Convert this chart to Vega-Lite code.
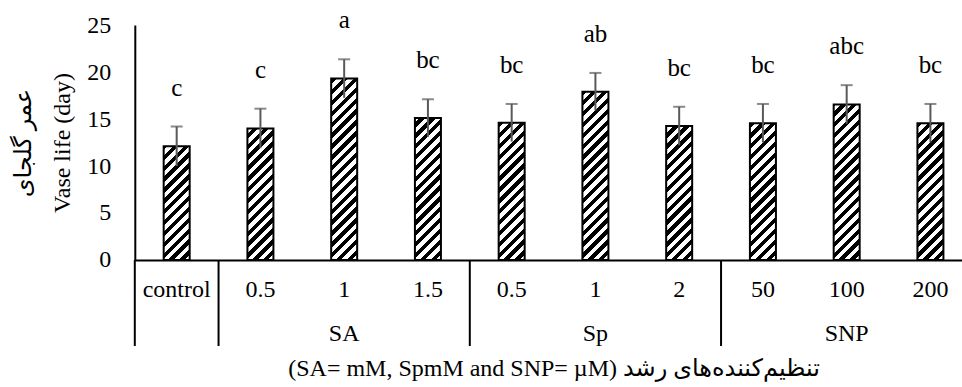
{
  "$schema": "https://vega.github.io/schema/vega-lite/v6.json",
  "autosize": "none",
  "padding": {"left": 134.8, "top": 25, "right": 0, "bottom": 127},
  "width": 837.5,
  "height": 235,
  "background": "white",
  "config": {"view": {"stroke": null}, "font": "Liberation Serif"},
  "data": {
    "values": [
      {"id": "control", "group": "control", "mean": 12.1, "lo": 10.0, "hi": 14.2, "letter": "c"},
      {"id": "SA 0.5", "group": "SA", "mean": 14.0, "lo": 11.9, "hi": 16.1, "letter": "c"},
      {"id": "SA 1", "group": "SA", "mean": 19.3, "lo": 17.25, "hi": 21.35, "letter": "a"},
      {"id": "SA 1.5", "group": "SA", "mean": 15.1, "lo": 13.1, "hi": 17.1, "letter": "bc"},
      {"id": "Sp 0.5", "group": "Sp", "mean": 14.6, "lo": 12.6, "hi": 16.6, "letter": "bc"},
      {"id": "Sp 1", "group": "Sp", "mean": 17.9, "lo": 15.9, "hi": 19.9, "letter": "ab"},
      {"id": "Sp 2", "group": "Sp", "mean": 14.25, "lo": 12.2, "hi": 16.3, "letter": "bc"},
      {"id": "SNP 50", "group": "SNP", "mean": 14.55, "lo": 12.5, "hi": 16.6, "letter": "bc"},
      {"id": "SNP 100", "group": "SNP", "mean": 16.55, "lo": 14.5, "hi": 18.6, "letter": "abc"},
      {"id": "SNP 200", "group": "SNP", "mean": 14.55, "lo": 12.5, "hi": 16.6, "letter": "bc"}
    ]
  },
  "encoding": {
    "x": {
      "field": "id",
      "type": "nominal",
      "sort": null,
      "scale": {"type": "band", "paddingInner": 0, "paddingOuter": 0},
      "axis": {
        "orient": "bottom",
        "labelAngle": 0,
        "labelExpr": "indexof(datum.value, ' ') > 0 ? substring(datum.value, indexof(datum.value, ' ') + 1) : datum.value",
        "labelFont": "Liberation Serif",
        "labelFontSize": 24,
        "labelColor": "black",
        "labelPadding": 18,
        "ticks": false,
        "domain": true,
        "domainColor": "black",
        "domainWidth": 2,
        "grid": false,
        "title": "(SA= mM, SpmM and SNP= µM) تنظیم‌کننده‌های رشد",
        "titleFont": "Liberation Serif, DejaVu Sans",
        "titleFontSize": 24,
        "titleFontWeight": "normal",
        "titleColor": "black",
        "titlePadding": 55
      }
    },
    "y": {
      "field": "mean",
      "type": "quantitative",
      "scale": {"domain": [0, 25], "nice": false},
      "axis": {
        "values": [0, 5, 10, 15, 20, 25],
        "ticks": false,
        "grid": false,
        "domainColor": "black",
        "domainWidth": 2,
        "labelFont": "Liberation Serif",
        "labelFontSize": 24,
        "labelColor": "black",
        "labelPadding": 24,
        "title": ["عمر گلجای", "Vase life (day)"],
        "titleFont": "Liberation Serif, DejaVu Sans",
        "titleFontSize": 24,
        "titleFontWeight": "normal",
        "titleColor": "black",
        "titlePadding": 12,
        "titleLineHeight": 39
      }
    }
  },
  "layer": [
    {
      "mark": {
        "type": "bar",
        "size": 26,
        "fill": {
          "gradient": "linear",
          "x1": 0, "y1": 0, "x2": 0.12139, "y2": 1.0972,
          "stops": [
            {"offset": 0, "color": "#000"}, {"offset": 0.020833, "color": "#000"}, {"offset": 0.020833, "color": "#fff"}, {"offset": 0.041667, "color": "#fff"},
            {"offset": 0.041667, "color": "#000"}, {"offset": 0.0625, "color": "#000"}, {"offset": 0.0625, "color": "#fff"}, {"offset": 0.083333, "color": "#fff"},
            {"offset": 0.083333, "color": "#000"}, {"offset": 0.104167, "color": "#000"}, {"offset": 0.104167, "color": "#fff"}, {"offset": 0.125, "color": "#fff"},
            {"offset": 0.125, "color": "#000"}, {"offset": 0.145833, "color": "#000"}, {"offset": 0.145833, "color": "#fff"}, {"offset": 0.166667, "color": "#fff"},
            {"offset": 0.166667, "color": "#000"}, {"offset": 0.1875, "color": "#000"}, {"offset": 0.1875, "color": "#fff"}, {"offset": 0.208333, "color": "#fff"},
            {"offset": 0.208333, "color": "#000"}, {"offset": 0.229167, "color": "#000"}, {"offset": 0.229167, "color": "#fff"}, {"offset": 0.25, "color": "#fff"},
            {"offset": 0.25, "color": "#000"}, {"offset": 0.270833, "color": "#000"}, {"offset": 0.270833, "color": "#fff"}, {"offset": 0.291667, "color": "#fff"},
            {"offset": 0.291667, "color": "#000"}, {"offset": 0.3125, "color": "#000"}, {"offset": 0.3125, "color": "#fff"}, {"offset": 0.333333, "color": "#fff"},
            {"offset": 0.333333, "color": "#000"}, {"offset": 0.354167, "color": "#000"}, {"offset": 0.354167, "color": "#fff"}, {"offset": 0.375, "color": "#fff"},
            {"offset": 0.375, "color": "#000"}, {"offset": 0.395833, "color": "#000"}, {"offset": 0.395833, "color": "#fff"}, {"offset": 0.416667, "color": "#fff"},
            {"offset": 0.416667, "color": "#000"}, {"offset": 0.4375, "color": "#000"}, {"offset": 0.4375, "color": "#fff"}, {"offset": 0.458333, "color": "#fff"},
            {"offset": 0.458333, "color": "#000"}, {"offset": 0.479167, "color": "#000"}, {"offset": 0.479167, "color": "#fff"}, {"offset": 0.5, "color": "#fff"},
            {"offset": 0.5, "color": "#000"}, {"offset": 0.520833, "color": "#000"}, {"offset": 0.520833, "color": "#fff"}, {"offset": 0.541667, "color": "#fff"},
            {"offset": 0.541667, "color": "#000"}, {"offset": 0.5625, "color": "#000"}, {"offset": 0.5625, "color": "#fff"}, {"offset": 0.583333, "color": "#fff"},
            {"offset": 0.583333, "color": "#000"}, {"offset": 0.604167, "color": "#000"}, {"offset": 0.604167, "color": "#fff"}, {"offset": 0.625, "color": "#fff"},
            {"offset": 0.625, "color": "#000"}, {"offset": 0.645833, "color": "#000"}, {"offset": 0.645833, "color": "#fff"}, {"offset": 0.666667, "color": "#fff"},
            {"offset": 0.666667, "color": "#000"}, {"offset": 0.6875, "color": "#000"}, {"offset": 0.6875, "color": "#fff"}, {"offset": 0.708333, "color": "#fff"},
            {"offset": 0.708333, "color": "#000"}, {"offset": 0.729167, "color": "#000"}, {"offset": 0.729167, "color": "#fff"}, {"offset": 0.75, "color": "#fff"},
            {"offset": 0.75, "color": "#000"}, {"offset": 0.770833, "color": "#000"}, {"offset": 0.770833, "color": "#fff"}, {"offset": 0.791667, "color": "#fff"},
            {"offset": 0.791667, "color": "#000"}, {"offset": 0.8125, "color": "#000"}, {"offset": 0.8125, "color": "#fff"}, {"offset": 0.833333, "color": "#fff"},
            {"offset": 0.833333, "color": "#000"}, {"offset": 0.854167, "color": "#000"}, {"offset": 0.854167, "color": "#fff"}, {"offset": 0.875, "color": "#fff"},
            {"offset": 0.875, "color": "#000"}, {"offset": 0.895833, "color": "#000"}, {"offset": 0.895833, "color": "#fff"}, {"offset": 0.916667, "color": "#fff"},
            {"offset": 0.916667, "color": "#000"}, {"offset": 0.9375, "color": "#000"}, {"offset": 0.9375, "color": "#fff"}, {"offset": 0.958333, "color": "#fff"},
            {"offset": 0.958333, "color": "#000"}, {"offset": 0.979167, "color": "#000"}, {"offset": 0.979167, "color": "#fff"}, {"offset": 1, "color": "#fff"}
          ]
        }
      },
      "encoding": {
        "y": {"datum": 0, "type": "quantitative"},
        "y2": {"datum": 25}
      }
    },
    {
      "mark": {"type": "bar", "size": 30, "fill": "white"},
      "encoding": {
        "y2": {"datum": 25}
      }
    },
    {
      "mark": {"type": "bar", "size": 26, "fill": "transparent", "stroke": "black", "strokeWidth": 2}
    },
    {
      "mark": {"type": "rule", "color": "#595959", "strokeWidth": 2},
      "encoding": {
        "y": {"field": "lo", "type": "quantitative"},
        "y2": {"field": "hi"}
      }
    },
    {
      "mark": {"type": "tick", "color": "#595959", "size": 12, "thickness": 2},
      "encoding": {
        "y": {"field": "hi", "type": "quantitative"}
      }
    },
    {
      "mark": {"type": "text", "dy": -39, "baseline": "middle", "font": "Liberation Serif", "fontSize": 25, "color": "black"},
      "encoding": {
        "y": {"field": "hi", "type": "quantitative"},
        "text": {"field": "letter"}
      }
    },
    {
      "transform": [{"filter": "indexof(['control','SA 0.5','Sp 0.5','SNP 50'], datum.id) >= 0"}],
      "mark": {"type": "rule", "color": "black", "strokeWidth": 2, "xOffset": -41.875},
      "encoding": {
        "y": {"datum": 0, "type": "quantitative"},
        "y2": {"datum": -9.15}
      }
    },
    {
      "transform": [{"filter": "indexof(['SA 1','Sp 1','SNP 100'], datum.id) >= 0"}],
      "mark": {"type": "text", "dy": 74, "baseline": "middle", "font": "Liberation Serif", "fontSize": 24, "color": "black"},
      "encoding": {
        "y": {"datum": 0, "type": "quantitative"},
        "text": {"field": "group"}
      }
    }
  ]
}
